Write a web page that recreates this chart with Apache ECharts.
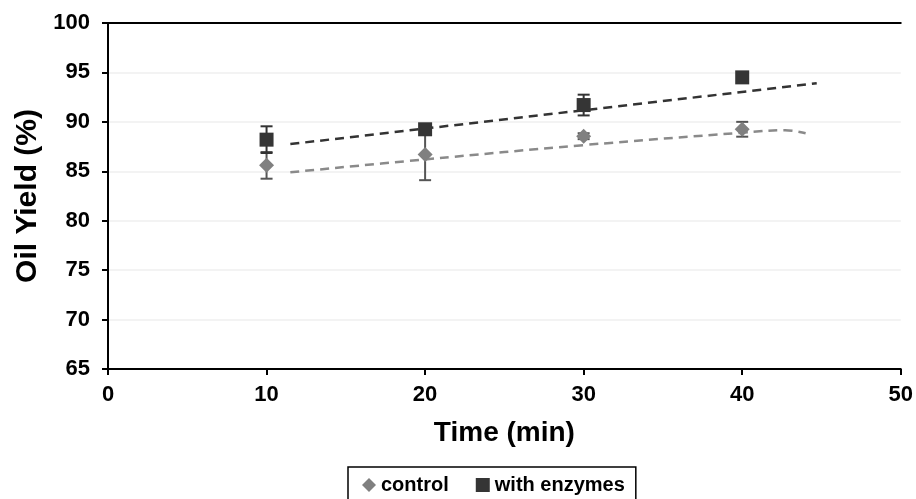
<!DOCTYPE html>
<html>
<head>
<meta charset="utf-8">
<script src="https://cdn.jsdelivr.net/npm/echarts@6/dist/echarts.min.js"></script>
<style>
html,body{margin:0;padding:0;background:#fff;}
#chart{width:916px;height:499px;}
</style>
</head>
<body>
<div id="chart"></div>
<script>
// ---- data ----
var times = [10, 20, 30, 40];
var controlValues = [85.6, 86.7, 88.55, 89.25];
var controlErrors = [1.35, 2.6, 0.3, 0.75];
var enzymeValues = [88.2, 89.25, 91.7, 94.5];
var enzymeErrors = [1.35, 0.3, 1.05, 0.3];
// trend lines (x, y) as drawn in the reference
var enzymeTrendX = [11.5, 44.7];
var enzymeTrendY = [87.75, 93.9];
var controlTrendX = [11.5, 20, 30, 40, 42.7, 44];
var controlTrendY = [84.9, 86.2, 87.65, 88.9, 89.15, 88.85];
var xTicks = [0, 10, 20, 30, 40, 50];
var yTicks = [65, 70, 75, 80, 85, 90, 95, 100];

var FONT = '"Liberation Sans", Arial, sans-serif';

function pairs(xs, ys) { return xs.map(function (x, i) { return [x, ys[i]]; }); }
function errData(vals, errs) {
  return times.map(function (t, i) { return [t, vals[i] - errs[i], vals[i] + errs[i]]; });
}
function errRender(color) {
  return function (params, api) {
    var lo = api.coord([api.value(0), api.value(1)]);
    var hi = api.coord([api.value(0), api.value(2)]);
    var cap = 6;
    var st = { stroke: color, lineWidth: 2 };
    return {
      type: 'group',
      children: [
        { type: 'line', shape: { x1: lo[0], y1: lo[1], x2: hi[0], y2: hi[1] }, style: st },
        { type: 'line', shape: { x1: lo[0] - cap, y1: lo[1], x2: lo[0] + cap, y2: lo[1] }, style: st },
        { type: 'line', shape: { x1: hi[0] - cap, y1: hi[1], x2: hi[0] + cap, y2: hi[1] }, style: st }
      ]
    };
  };
}

var xMin = xTicks[0], xMax = xTicks[xTicks.length - 1];
var yMin = yTicks[0], yMax = yTicks[yTicks.length - 1];
var borderAxis = {
  axisLine: { show: true, lineStyle: { color: '#000', width: 2 } },
  axisTick: { show: false }, axisLabel: { show: false }, splitLine: { show: false }
};

var chart = echarts.init(document.getElementById('chart'));
chart.setOption({
  animation: false,
  backgroundColor: '#fff',
  grid: { left: 108, right: 13, top: 23, bottom: 130 },
  legend: {
    data: [{ name: 'control', icon: 'diamond' }, { name: 'with enzymes', icon: 'rect' }],
    left: 348, top: 467,
    borderColor: '#000', borderWidth: 1.5,
    padding: [8, 11, 8, 14],
    itemGap: 27, itemWidth: 14, itemHeight: 14,
    textStyle: { fontFamily: FONT, fontWeight: 'bold', fontSize: 20, color: '#000' }
  },
  xAxis: [{
    type: 'value', min: xMin, max: xMax, interval: 10,
    name: 'Time (min)', nameLocation: 'middle', nameGap: 50,
    nameTextStyle: { fontFamily: FONT, fontWeight: 'bold', fontSize: 28, color: '#000' },
    axisLine: { lineStyle: { color: '#000', width: 2 } },
    axisTick: { show: true, length: 6, lineStyle: { color: '#000', width: 2 } },
    axisLabel: { margin: 15, fontFamily: FONT, fontWeight: 'bold', fontSize: 22, color: '#000' },
    splitLine: { show: false }
  }, Object.assign({ type: 'value', position: 'top', min: xMin, max: xMax, interval: 10 }, borderAxis)],
  yAxis: [{
    type: 'value', min: yMin, max: yMax, interval: 5,
    name: 'Oil Yield (%)', nameLocation: 'middle', nameGap: 65, nameRotate: 90,
    nameTextStyle: { fontFamily: FONT, fontWeight: 'bold', fontSize: 30, color: '#000' },
    axisLine: { show: true, lineStyle: { color: '#000', width: 2 } },
    axisTick: { show: true, length: 6, lineStyle: { color: '#000', width: 2 } },
    axisLabel: { margin: 18, fontFamily: FONT, fontWeight: 'bold', fontSize: 22, color: '#000' },
    splitLine: { show: true, lineStyle: { color: '#efefef', width: 1.5 } }
  }, Object.assign({ type: 'value', position: 'right', min: yMin, max: yMax, interval: 5 }, borderAxis)],
  series: [
    {
      name: 'controlTrend', type: 'line', data: pairs(controlTrendX, controlTrendY),
      smooth: 0.4, showSymbol: false, silent: true,
      lineStyle: { color: '#8a8a8a', width: 2.5, type: [9, 6] }, z: 2
    },
    {
      name: 'enzymeTrend', type: 'line', data: pairs(enzymeTrendX, enzymeTrendY),
      showSymbol: false, silent: true,
      lineStyle: { color: '#333', width: 2.5, type: [9, 6] }, z: 2
    },
    {
      name: 'controlErr', type: 'custom', data: errData(controlValues, controlErrors),
      renderItem: errRender('#555'), z: 3, silent: true
    },
    {
      name: 'enzymeErr', type: 'custom', data: errData(enzymeValues, enzymeErrors),
      renderItem: errRender('#333'), z: 3, silent: true
    },
    {
      name: 'control', type: 'scatter', data: pairs(times, controlValues),
      symbol: 'diamond', symbolSize: 15,
      itemStyle: { color: '#808080', opacity: 1 }, z: 4
    },
    {
      name: 'with enzymes', type: 'scatter', data: pairs(times, enzymeValues),
      symbol: 'rect', symbolSize: 14,
      itemStyle: { color: '#353535', opacity: 1 }, z: 5
    }
  ]
});
</script>
</body>
</html>
